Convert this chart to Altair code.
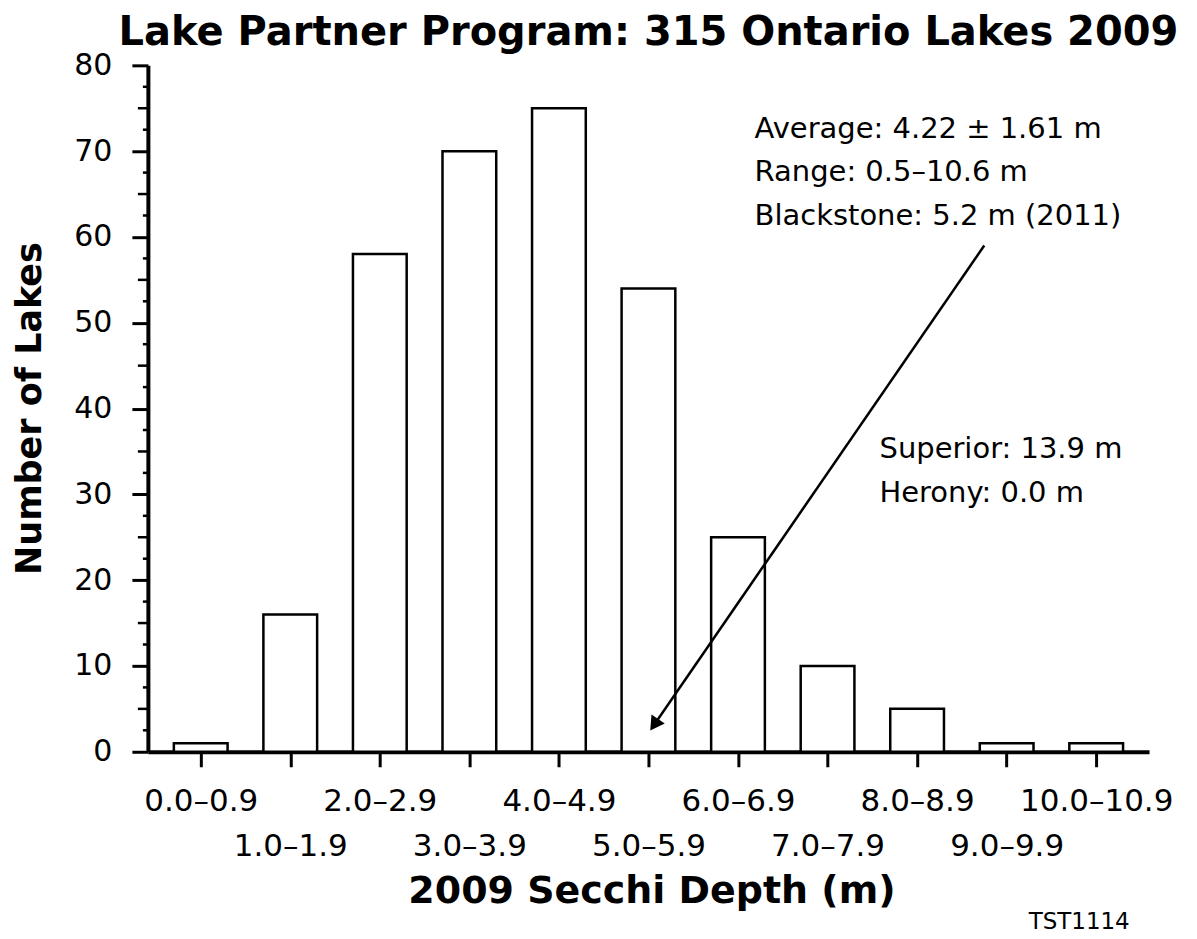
import altair as alt
import pandas as pd

# ---- data ----
categories = ["0.0–0.9", "1.0–1.9", "2.0–2.9", "3.0–3.9", "4.0–4.9", "5.0–5.9",
              "6.0–6.9", "7.0–7.9", "8.0–8.9", "9.0–9.9", "10.0–10.9"]
counts = [1, 16, 58, 70, 75, 54, 25, 10, 5, 1, 1]

y_major = [0, 10, 20, 30, 40, 50, 60, 70, 80]
y_minor5 = [5, 15, 25, 35, 45, 55, 65, 75]
y_minor25 = [2.5, 7.5, 12.5, 17.5, 22.5, 27.5, 32.5, 37.5, 42.5, 47.5, 52.5, 57.5,
             62.5, 67.5, 72.5, 77.5]

stats_text = ["Average: 4.22 ± 1.61 m", "Range: 0.5–10.6 m", "Blackstone: 5.2 m (2011)"]
stats_x = [6.185, 6.185, 6.185]
stats_y = [71.5, 66.5, 61.4]

extremes_text = ["Superior: 13.9 m", "Herony: 0.0 m"]
extremes_x = [7.58, 7.58]
extremes_y = [34.2, 29.1]

arrow_start = [8.75, 59.0]
arrow_head = [5.064, 3.15]

footnote_text = ["TST1114"]
footnote_x = [9.81]
footnote_y = [-20.7]

FONT = "DejaVu Sans"
BAR_HALF = 0.30

bars = pd.DataFrame({
    "idx": list(range(len(categories))),
    "label": categories,
    "count": counts,
})
bars["lo"] = bars["idx"] - BAR_HALF
bars["hi"] = bars["idx"] + BAR_HALF
bars["zero"] = 0

xscale = alt.Scale(domain=[-0.59, 10.59], nice=False, zero=False)
yscale = alt.Scale(domain=[0, 80], nice=False)

cats_js = "[" + ",".join("'" + c + "'" for c in categories) + "]"
label_expr = (f"datum.value % 2 == 1 ? ['', {cats_js}[datum.value]] : {cats_js}[datum.value]")

x_axis = alt.Axis(
    values=list(range(len(categories))),
    labelExpr=label_expr,
    labelFont=FONT, labelFontSize=31, labelColor="black",
    labelOverlap=False, labelFlush=False, labelBound=False,
    labelBaseline="top", labelLineHeight=45, labelPadding=20,
    tickSize=15, tickWidth=3, tickColor="black",
    domainWidth=4, domainColor="black", grid=False,
    title="2009 Secchi Depth (m)",
    titleFont=FONT, titleFontSize=38, titleFontWeight="bold", titleColor="black",
    titleX=504, titleY=151, titleBaseline="alphabetic", titleAlign="center",
)

y_axis = alt.Axis(
    values=y_major,
    labelFont=FONT, labelFontSize=30, labelColor="black", labelPadding=20,
    tickSize=16, tickWidth=3, tickColor="black",
    domainWidth=4, domainColor="black", grid=False,
    title="Number of Lakes",
    titleFont=FONT, titleFontSize=35, titleFontWeight="bold", titleColor="black",
    titleAngle=270, titleX=-118, titleY=343, titleBaseline="middle", titleAlign="center",
)


def X(field):
    return alt.X(field, scale=xscale, axis=x_axis)


def Y(field):
    return alt.Y(field, scale=yscale, axis=y_axis)


bar_layer = alt.Chart(bars).mark_rect(fill="white", stroke="black", strokeWidth=2.5).encode(
    x=X("lo:Q"), x2="hi:Q", y=Y("count:Q"), y2="zero:Q",
)

minor5 = alt.Chart(pd.DataFrame({"v": y_minor5})).mark_rule(color="black", strokeWidth=2.5).encode(
    y=Y("v:Q"), x=alt.value(-10), x2=alt.value(0),
)
minor25 = alt.Chart(pd.DataFrame({"v": y_minor25})).mark_rule(color="black", strokeWidth=2.5).encode(
    y=Y("v:Q"), x=alt.value(-5), x2=alt.value(0),
)

stats = alt.Chart(pd.DataFrame({"x": stats_x, "y": stats_y, "t": stats_text})).mark_text(
    font=FONT, fontSize=29, align="left", baseline="alphabetic", color="black"
).encode(x=X("x:Q"), y=Y("y:Q"), text="t:N")

extremes = alt.Chart(pd.DataFrame({"x": extremes_x, "y": extremes_y, "t": extremes_text})).mark_text(
    font=FONT, fontSize=29, align="left", baseline="alphabetic", color="black"
).encode(x=X("x:Q"), y=Y("y:Q"), text="t:N")

arrow_df = pd.DataFrame({"x": [arrow_start[0]], "y": [arrow_start[1]],
                         "x2": [arrow_head[0]], "y2": [arrow_head[1]]})
arrow_line = alt.Chart(arrow_df).mark_rule(color="black", strokeWidth=2.5).encode(
    x=X("x:Q"), y=Y("y:Q"), x2="x2:Q", y2="y2:Q",
)
arrow_tip = alt.Chart(arrow_df).mark_point(
    shape="triangle-up", filled=True, color="black", size=260, angle=214.5, opacity=1
).encode(x=X("x2:Q"), y=Y("y2:Q"))

footnote = alt.Chart(pd.DataFrame({"x": footnote_x, "y": footnote_y, "t": footnote_text})).mark_text(
    font=FONT, fontSize=23, align="center", baseline="alphabetic", color="black"
).encode(x=X("x:Q"), y=Y("y:Q"), text="t:N")

chart = alt.layer(
    bar_layer, minor5, minor25, stats, extremes, arrow_line, arrow_tip, footnote
).properties(
    width=1002, height=687,
    background="white",
    title=alt.Title("Lake Partner Program: 315 Ontario Lakes 2009", font=FONT, fontSize=40,
                    fontWeight="bold", color="black", anchor="middle", frame="group", offset=-3),
    autosize=alt.AutoSizeParams(type="none"),
    padding={"left": 140, "top": 57, "right": 40, "bottom": 186},
).configure_view(stroke=None, strokeWidth=0)

chart.save("out.html", embed_options={"renderer": "svg", "actions": False})
